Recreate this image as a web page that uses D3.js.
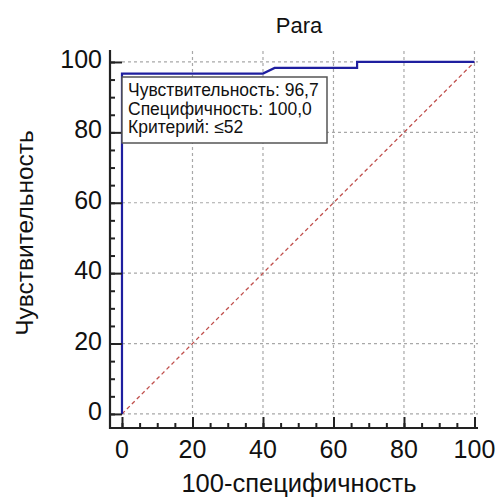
<!DOCTYPE html>
<html>
<head>
<meta charset="utf-8">
<script src="https://cdn.jsdelivr.net/npm/d3@7"></script>
<style>
  body { margin: 0; background: #fff; }
  svg { font-family: "Liberation Sans", Arial, sans-serif; }
</style>
</head>
<body>
<div id="chart"></div>
<script>
// ROC curve data (100-specificity, sensitivity)
const fprValues = [0, 0, 40, 43.3, 66.7, 66.7, 100];
const sensValues = [0, 96.7, 96.7, 98.3, 98.3, 100, 100];
const tickValues = [0, 20, 40, 60, 80, 100];
const minorTicks = d3.range(0, 101, 5);
const chartTitle = "Para";
const xLabel = "100-специфичность";
const yLabel = "Чувствительность";
const boxLines = ["Чувствительность: 96,7", "Специфичность: 100,0", "Критерий: ≤52"];

const width = 497, height = 497;

const svg = d3.select("#chart")
    .append("svg")
    .attr("width", width)
    .attr("height", height);

const x = d3.scaleLinear().domain([-3.4, 101]).range([110, 478]);
const y = d3.scaleLinear().domain([-4, 103.4]).range([428, 50]);

// Grid lines
const grid = svg.append("g").attr("class", "grid");
grid.selectAll("line.v")
    .data(tickValues.filter(d => d > 0))
    .enter().append("line")
    .attr("x1", d => x(d)).attr("x2", d => x(d))
    .attr("y1", y(0)).attr("y2", y(103.4))
    .attr("stroke", "#a8a8a8")
    .attr("stroke-width", 1.2)
    .attr("stroke-dasharray", "3,3");
grid.selectAll("line.h")
    .data(tickValues)
    .enter().append("line")
    .attr("x1", x(0)).attr("x2", x(101))
    .attr("y1", d => y(d)).attr("y2", d => y(d))
    .attr("stroke", "#a8a8a8")
    .attr("stroke-width", 1.2)
    .attr("stroke-dasharray", "3,3");

// Reference diagonal
svg.append("line")
    .attr("x1", x(0)).attr("y1", y(0))
    .attr("x2", x(100)).attr("y2", y(100))
    .attr("stroke", "#c0504d")
    .attr("stroke-width", 1.3)
    .attr("stroke-dasharray", "4,3");

// ROC curve
const line = d3.line()
    .x((d, i) => x(fprValues[i]))
    .y(d => y(d));

svg.append("path")
    .datum(sensValues)
    .attr("d", line)
    .attr("fill", "none")
    .attr("stroke", "#1f1f9f")
    .attr("stroke-width", 2.2);

// Axes: ticks point inward
const xAxis = svg.append("g").attr("transform", `translate(0,428)`);
xAxis.call(d3.axisTop(x).tickValues(minorTicks).tickSize(5).tickFormat(""));
xAxis.append("g").call(d3.axisTop(x).tickValues(tickValues).tickSize(11).tickFormat(""));
xAxis.selectAll(".domain").remove();
xAxis.selectAll("line").attr("stroke", "#222").attr("stroke-width", 2);
xAxis.append("line")
    .attr("x1", 110).attr("x2", 478)
    .attr("stroke", "#222").attr("stroke-width", 2.2);

const yAxis = svg.append("g").attr("transform", `translate(110,0)`);
yAxis.call(d3.axisRight(y).tickValues(minorTicks).tickSize(5).tickFormat(""));
yAxis.append("g").call(d3.axisRight(y).tickValues(tickValues).tickSize(12).tickFormat(""));
yAxis.selectAll(".domain").remove();
yAxis.selectAll("line").attr("stroke", "#222").attr("stroke-width", 2);
yAxis.append("line")
    .attr("y1", 50).attr("y2", 429)
    .attr("stroke", "#222").attr("stroke-width", 2.2);

// Tick labels
svg.append("g").selectAll("text")
    .data(tickValues)
    .enter().append("text")
    .attr("x", d => x(d))
    .attr("y", 458)
    .attr("text-anchor", "middle")
    .style("font-size", "25px")
    .style("fill", "#111")
    .text(d => d);

svg.append("g").selectAll("text")
    .data(tickValues)
    .enter().append("text")
    .attr("x", 102)
    .attr("y", d => y(d) + 6)
    .attr("text-anchor", "end")
    .style("font-size", "25px")
    .style("fill", "#111")
    .text(d => d);

// Titles
svg.append("text")
    .attr("x", 299).attr("y", 33)
    .attr("text-anchor", "middle")
    .style("font-size", "22px")
    .style("fill", "#111")
    .text(chartTitle);

svg.append("text")
    .attr("x", 299).attr("y", 492)
    .attr("text-anchor", "middle")
    .style("font-size", "25.5px")
    .style("fill", "#111")
    .text(xLabel);

svg.append("text")
    .attr("transform", "translate(33,233) rotate(-90)")
    .attr("text-anchor", "middle")
    .style("font-size", "24.5px")
    .style("fill", "#111")
    .text(yLabel);

// Info box
const box = svg.append("g");
box.append("rect")
    .attr("x", 122).attr("y", 77)
    .attr("width", 205).attr("height", 66)
    .attr("fill", "#fff")
    .attr("stroke", "#555")
    .attr("stroke-width", 1.5);
box.selectAll("text")
    .data(boxLines)
    .enter().append("text")
    .attr("x", 128)
    .attr("y", (d, i) => 96 + i * 18.5)
    .style("font-size", "17.5px")
    .style("fill", "#111")
    .text(d => d);
</script>
</body>
</html>
